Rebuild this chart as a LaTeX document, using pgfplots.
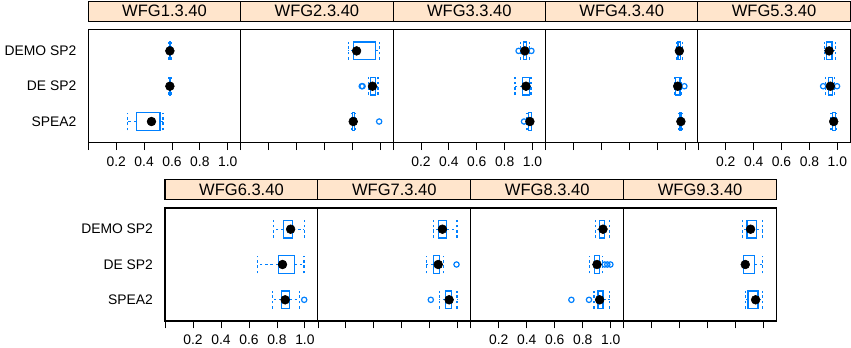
\documentclass[border=0pt]{standalone}
\usepackage{fontspec}
\setmainfont{Liberation Sans}
\usepackage{pgfplots}
\pgfplotsset{compat=1.18}
\usepgfplotslibrary{statistics}
\definecolor{bblue}{RGB}{0,128,255}
\definecolor{stripfill}{RGB}{255,229,204}
\newcommand\wfgfont{\fontsize{12.4}{14}\selectfont}
\newcommand\tickfont{\fontsize{10.4}{12}\selectfont}
\pgfplotsset{
  panel/.style={scale only axis, height=84.75pt,
    xmin=0, xmax=1.093, ymin=0.4, ymax=3.6,
    ytick={1,2,3}, yticklabels={}, xtick={0,0.2,0.4,0.6,0.8,1.0}, xticklabels={},
    tick align=outside, xtick pos=bottom, ytick pos=left,
    major tick length=5.5pt, ytick style={draw=none},
    tick style={black, line width=0.6pt},
    axis line style={black, line width=0.8pt},
    /pgf/number format/assume math mode=true,
    tick label style={font=\tickfont},
    xticklabel style={inner ysep=0pt, yshift=-4.6pt},
    title style={at={(0.5,1)}, anchor=south, fill=stripfill, draw=black, line width=0.8pt,
      minimum width=\pgfkeysvalueof{/pgfplots/width}, minimum height=15pt, inner sep=0pt,
      font=\wfgfont},
    clip=false},
  labx/.style={xticklabels={,0.2,0.4,0.6,0.8,1.0}},
  laby/.style={yticklabels={SPEA2,DE SP2,DEMO SP2}},
  bw/.style={boxplot/draw direction=x, draw=bblue, color=bblue, line width=0.9pt, mark=none,
    boxplot/box extend=0.5, boxplot/whisker extend=0.5,
    boxplot/every box/.style={draw=bblue, solid, line width=0.9pt},
    boxplot/every whisker/.style={draw=bblue, line width=0.9pt, dash pattern=on 2pt off 2pt},
    boxplot/every median/.style={draw=none}}
}
% \bw{pos}{min}{q1}{med}{q3}{max}{outliers}
\newcommand\bw[7]{%
  \addplot[bw, boxplot prepared={draw position=#1, lower whisker=#2, lower quartile=#3,
    median=#4, upper quartile=#5, upper whisker=#6}] coordinates {};
  \addplot[only marks, mark=o, mark size=2pt, color=bblue, line width=0.9pt] coordinates {#7};
  \addplot[only marks, mark=*, mark size=3.3pt, color=black] coordinates {(#4,#1)};
}
\begin{document}
\begin{tikzpicture}
\path[use as bounding box] (0,0) rectangle (638.25pt,-260.25pt);
% ---- top row ----
\begin{axis}[panel, width=114.3pt, labx, laby, at={(66.23pt,-107.03pt)}, anchor=south west, title={{\wfgfont WFG1.3.40}}]
\bw{3}{0.575}{0.58}{0.585}{0.59}{0.595}{}
\bw{2}{0.575}{0.58}{0.585}{0.59}{0.595}{}
\bw{1}{0.279}{0.345}{0.453}{0.514}{0.536}{}
\end{axis}
\begin{axis}[panel, width=114.3pt, at={(180.53pt,-107.03pt)}, anchor=south west, title={{\wfgfont WFG2.3.40}}]
\bw{3}{0.771}{0.81}{0.831}{0.967}{0.996}{}
\bw{2}{0.915}{0.93}{0.945}{0.965}{0.985}{(0.868,2) (0.874,2)}
\bw{1}{0.795}{0.80}{0.807}{0.815}{0.82}{(0.993,1)}
\end{axis}
\begin{axis}[panel, width=114.3pt, labx, at={(294.83pt,-107.03pt)}, anchor=south west, title={{\wfgfont WFG3.3.40}}]
\bw{3}{0.915}{0.935}{0.945}{0.957}{0.978}{(0.900,3) (0.992,3)}
\bw{2}{0.874}{0.929}{0.953}{0.976}{0.989}{}
\bw{1}{0.96}{0.97}{0.981}{0.99}{0.995}{(0.939,1)}
\end{axis}
\begin{axis}[panel, width=114.3pt, at={(409.13pt,-107.03pt)}, anchor=south west, title={{\wfgfont WFG4.3.40}}]
\bw{3}{0.94}{0.95}{0.96}{0.97}{0.98}{}
\bw{2}{0.925}{0.935}{0.948}{0.965}{0.978}{(0.996,2)}
\bw{1}{0.955}{0.965}{0.971}{0.978}{0.985}{}
\end{axis}
\begin{axis}[panel, width=114.3pt, labx, at={(523.43pt,-107.03pt)}, anchor=south west, title={{\wfgfont WFG5.3.40}}]
\bw{3}{0.907}{0.921}{0.941}{0.962}{0.986}{}
\bw{2}{0.915}{0.935}{0.95}{0.965}{0.98}{(0.898,2) (0.998,2)}
\bw{1}{0.955}{0.965}{0.974}{0.985}{0.99}{}
\end{axis}
% ---- bottom row ----
\begin{axis}[panel, width=114.675pt, labx, laby, at={(123.75pt,-240.75pt)}, anchor=south west, title={{\wfgfont WFG6.3.40}}]
\bw{3}{0.774}{0.848}{0.898}{0.912}{0.995}{}
\bw{2}{0.662}{0.81}{0.84}{0.924}{0.993}{}
\bw{1}{0.767}{0.833}{0.859}{0.888}{0.96}{(0.995,1)}
\end{axis}
\begin{axis}[panel, width=114.675pt, at={(238.425pt,-240.75pt)}, anchor=south west, title={{\wfgfont WFG7.3.40}}]
\bw{3}{0.824}{0.864}{0.89}{0.919}{0.995}{}
\bw{2}{0.776}{0.826}{0.86}{0.871}{0.9}{(0.991,2)}
\bw{1}{0.867}{0.912}{0.938}{0.955}{0.995}{(0.807,1)}
\end{axis}
\begin{axis}[panel, width=114.675pt, labx, at={(353.1pt,-240.75pt)}, anchor=south west, title={{\wfgfont WFG8.3.40}}]
\bw{3}{0.89}{0.921}{0.945}{0.955}{0.993}{}
\bw{2}{0.85}{0.884}{0.902}{0.921}{0.94}{(0.957,2) (0.976,2) (0.998,2)}
\bw{1}{0.88}{0.909}{0.921}{0.945}{0.993}{(0.719,1) (0.845,1)}
\end{axis}
\begin{axis}[panel, width=114.675pt, at={(467.775pt,-240.75pt)}, anchor=south west, title={{\wfgfont WFG9.3.40}}]
\bw{3}{0.852}{0.881}{0.907}{0.948}{0.99}{}
\bw{2}{0.855}{0.857}{0.869}{0.933}{0.99}{}
\bw{1}{0.871}{0.888}{0.943}{0.96}{0.995}{}
\end{axis}
\end{tikzpicture}
\end{document}
